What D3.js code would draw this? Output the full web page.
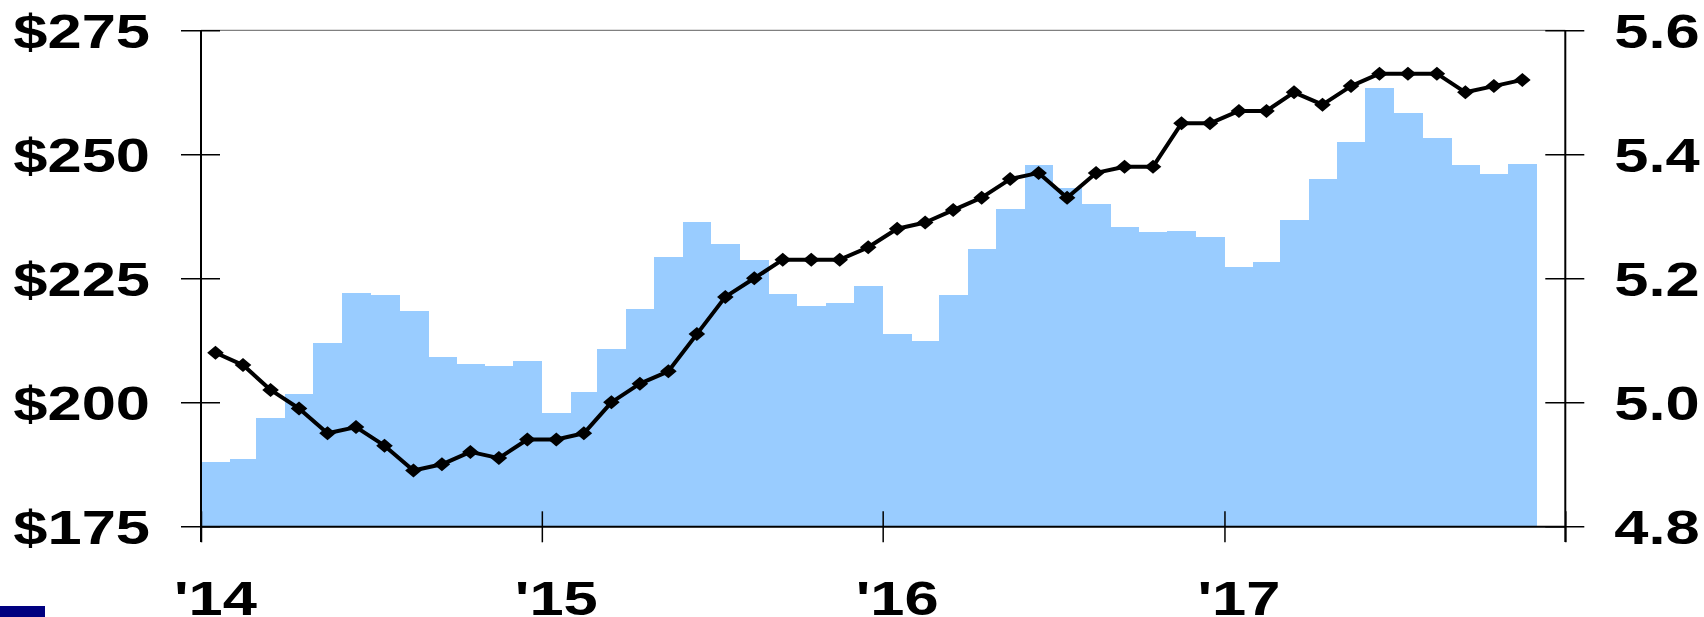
<!DOCTYPE html>
<html><head><meta charset="utf-8">
<script src="https://cdn.jsdelivr.net/npm/d3@7"></script>
<style>html,body{margin:0;padding:0;background:#fff;overflow:hidden;} svg{display:block;}</style>
</head><body><svg id="c" width="1704" height="617"></svg>
<script>
// ---- data ----
const months = [
  "2014-01","2014-02","2014-03","2014-04","2014-05","2014-06","2014-07","2014-08","2014-09","2014-10","2014-11","2014-12",
  "2015-01","2015-02","2015-03","2015-04","2015-05","2015-06","2015-07","2015-08","2015-09","2015-10","2015-11","2015-12",
  "2016-01","2016-02","2016-03","2016-04","2016-05","2016-06","2016-07","2016-08","2016-09","2016-10","2016-11","2016-12",
  "2017-01","2017-02","2017-03","2017-04","2017-05","2017-06","2017-07","2017-08","2017-09","2017-10","2017-11"
];
const prices = [
  188.0,188.6,196.9,201.6,212.0,222.1,221.6,218.5,209.2,207.7,207.4,208.3,
  197.8,202.1,210.7,218.8,229.2,236.4,232.0,228.7,221.8,219.4,220.1,223.4,
  213.8,212.3,221.6,231.0,239.0,247.8,243.3,240.0,235.3,234.4,234.6,233.3,
  227.3,228.3,236.7,245.0,252.5,263.4,258.3,253.3,247.9,246.1,248.0
];
const rates = [
  5.08,5.06,5.02,4.99,4.95,4.96,4.93,4.89,4.90,4.92,4.91,4.94,
  4.94,4.95,5.00,5.03,5.05,5.11,5.17,5.20,5.23,5.23,5.23,5.25,
  5.28,5.29,5.31,5.33,5.36,5.37,5.33,5.37,5.38,5.38,5.45,5.45,
  5.47,5.47,5.50,5.48,5.51,5.53,5.53,5.53,5.50,5.51,5.52
];
const leftTicks = [175, 200, 225, 250, 275];
const rightTicks = [4.8, 5.0, 5.2, 5.4, 5.6];
const yearTicks = ["2014-01","2015-01","2016-01","2017-01","2018-01"];
const yearLabels = ["'14","'15","'16","'17"];

// ---- setup ----
const parse = d3.timeParse("%Y-%m");
const svg = d3.select("#c");
const L = 201, R = 1565.3, T = 30.3, B = 526.3;
const FS = 48, SX = 1.28;
const font = "'Liberation Sans', Arial, Helvetica, sans-serif";

const x = d3.scaleTime().domain([parse("2014-01"), parse("2018-01")]).range([L, R]);
const yL = d3.scaleLinear().domain([175, 275]).range([B, T]);
const yR = d3.scaleLinear().domain([4.8, 5.6]).range([B, T]);

const data = months.map((m, i) => {
  const s = parse(m);
  const e = d3.timeMonth.offset(s, 1);
  return {s, e, mid: new Date((+s + +e) / 2), p: prices[i], r: rates[i]};
});

// decoration bottom-left
svg.append("rect").attr("x", 0).attr("y", 606).attr("width", 45).attr("height", 11).attr("fill", "#000080");

// bars
svg.append("g").selectAll("rect").data(data).join("rect")
  .attr("x", d => x(d.s))
  .attr("width", d => x(d.e) - x(d.s) + 0.6)
  .attr("y", d => yL(d.p))
  .attr("height", d => B - yL(d.p))
  .attr("fill", "#99CCFF")
  .attr("shape-rendering", "crispEdges");

// top border
svg.append("line").attr("x1", L).attr("x2", R).attr("y1", T).attr("y2", T)
  .attr("stroke", "#808080").attr("stroke-width", 1.2);

// left axis
const gl = svg.append("g").attr("transform", `translate(${L},0)`)
  .call(d3.axisLeft(yL).tickValues(leftTicks).tickSize(0).tickFormat(d => "$" + d));
gl.select(".domain").remove();
gl.selectAll(".tick line").attr("x1", -20).attr("x2", 19).attr("stroke", "#000").attr("stroke-width", 1.5);
gl.selectAll(".tick text")
  .attr("x", 0).attr("dy", null).attr("y", 17)
  .attr("transform", `translate(-51,0) scale(${SX},1)`)
  .attr("text-anchor", "end")
  .style("font-family", font).style("font-weight", "bold").style("font-size", FS + "px").attr("fill", "#000");
svg.append("line").attr("x1", L).attr("x2", L).attr("y1", T).attr("y2", 542)
  .attr("stroke", "#000").attr("stroke-width", 2);

// right axis
const gr = svg.append("g").attr("transform", `translate(${R},0)`)
  .call(d3.axisRight(yR).tickValues(rightTicks).tickSize(0).tickFormat(d3.format(".1f")));
gr.select(".domain").remove();
gr.selectAll(".tick line").attr("x1", -20).attr("x2", 19).attr("stroke", "#000").attr("stroke-width", 1.5);
gr.selectAll(".tick text")
  .attr("x", 0).attr("dy", null).attr("y", 17)
  .attr("transform", `translate(49,0) scale(${SX},1)`)
  .attr("text-anchor", "start")
  .style("font-family", font).style("font-weight", "bold").style("font-size", FS + "px").attr("fill", "#000");
svg.append("line").attr("x1", R).attr("x2", R).attr("y1", T).attr("y2", 542)
  .attr("stroke", "#000").attr("stroke-width", 2);

// bottom axis
const gb = svg.append("g").attr("transform", `translate(0,${B})`)
  .call(d3.axisBottom(x).tickValues(yearTicks.map(parse)).tickSize(0).tickFormat(""));
gb.select(".domain").attr("stroke", "#000").attr("stroke-width", 2);
gb.selectAll(".tick line").attr("y1", -15).attr("y2", 16).attr("stroke", "#000").attr("stroke-width", 1.5);

// year labels, centred on January
svg.append("g").selectAll("g").data(yearLabels).join("g")
  .attr("transform", (d, i) => {
    const s = parse(yearTicks[i]);
    const mid = new Date((+s + +d3.timeMonth.offset(s, 1)) / 2);
    return `translate(${x(mid)},614.5) scale(${SX},1)`;
  })
  .append("text")
  .attr("text-anchor", "middle")
  .style("font-family", font).style("font-weight", "bold").style("font-size", FS + "px")
  .attr("fill", "#000")
  .text(d => d);

// line series
svg.append("path").datum(data)
  .attr("d", d3.line().x(d => x(d.mid)).y(d => yR(d.r)))
  .attr("fill", "none").attr("stroke", "#000").attr("stroke-width", 4).attr("stroke-linejoin", "round");

svg.append("g").selectAll("path").data(data).join("path")
  .attr("transform", d => `translate(${x(d.mid)},${yR(d.r)})`)
  .attr("d", "M0,-7L8.3,0L0,7L-8.3,0Z")
  .attr("fill", "#000");
</script>
</body></html>
